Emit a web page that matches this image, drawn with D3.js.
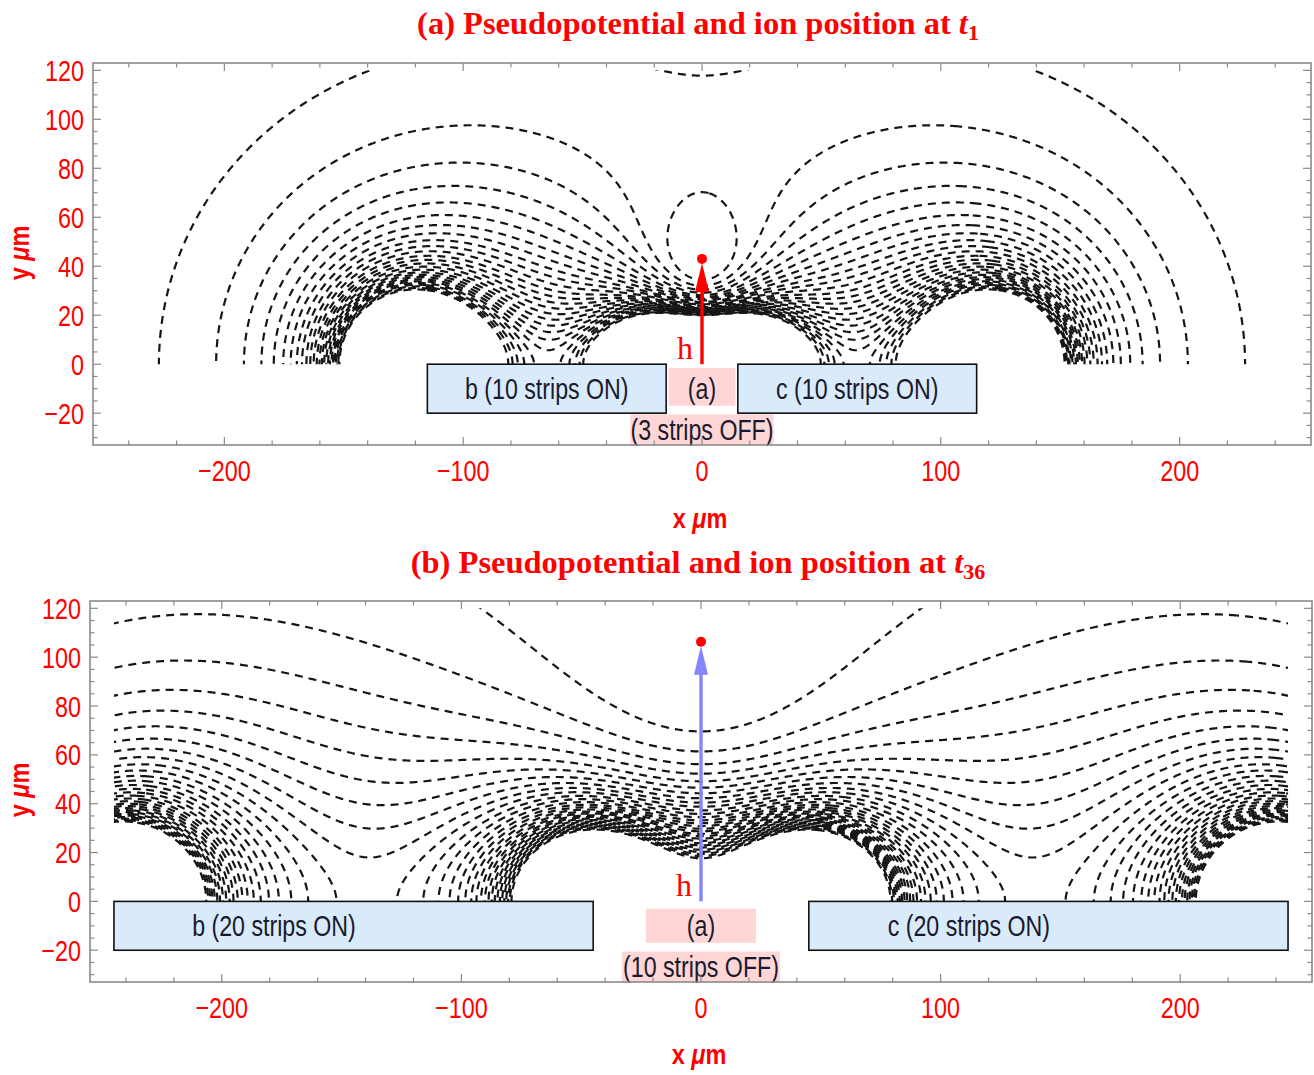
<!DOCTYPE html>
<html><head><meta charset="utf-8">
<script src="https://cdn.jsdelivr.net/npm/d3@7"></script>
<style>body{margin:0;background:#fff} svg{display:block}</style>
</head><body>
<svg id="c" width="1314" height="1075"></svg>
<script>
// ---------------- data ----------------
const titleTexts = ["(a) Pseudopotential and ion position at ", "(b) Pseudopotential and ion position at "];
const titleSubs = ["1", "36"];
// electrode boxes (µm) as labelled in the figure
const rfBoxesA = [[-115, -15], [15, 115]];
const rfBoxesB = [[-245, -45], [45, 245]];
const rfLabelsA = ["b (10 strips ON)", "c (10 strips ON)"];
const rfLabelsB = ["b (20 strips ON)", "c (20 strips ON)"];
// RF electrode edges (µm) estimated from the contour pattern (used for the pseudopotential field)
const rfEdgesA = [[-125, -15], [15, 125]];
const rfEdgesB = [[-245, -45], [45, 245]];
// grounded (OFF) region boxes
const offBoxA = [-14, 14];
const offBoxB = [-23, 23];
const offLabelBoxA = [-30, 30];
const offLabelBoxB = [-33, 33];
const offLabelA = "(3 strips OFF)";
const offLabelB = "(10 strips OFF)";
// ion heights (µm)
const ionHeights = [43, 106.3];
// contour levels of |E|^2 (unit RF amplitude, µm): step and count per panel
const contourLevelSteps = [4.08e-6, 3.12e-6];
const contourLevelCounts = [26, 30];
// ticks
const xTickValues = [-200, -100, 0, 100, 200];
const yTickValues = [-20, 0, 20, 40, 60, 80, 100, 120];

// ---------------- layout ----------------
const svg = d3.select("#c");
const RED = "#ff0000";
const panels = [
  {title: titleTexts[0], sub: titleSubs[0], titleY: 34, frame: {l: 93, r: 1311, t: 63, b: 445},
   box: rfBoxesA, rf: rfEdgesA, rfLabels: rfLabelsA, off: offBoxA, offTop: -1.5, offLab: offLabelBoxA, offText: offLabelA,
   ion: ionHeights[0], arrow: "#ff0000", xlabY: 528, ylabY: 253,
   step: contourLevelSteps[0], count: contourLevelCounts[0]},
  {title: titleTexts[1], sub: titleSubs[1], titleY: 573, frame: {l: 90, r: 1312, t: 601, b: 982},
   box: rfBoxesB, rf: rfEdgesB, rfLabels: rfLabelsB, off: offBoxB, offTop: -3, offLab: offLabelBoxB, offText: offLabelB,
   ion: ionHeights[1], arrow: "#8585ff", xlabY: 1064, ylabY: 790,
   step: contourLevelSteps[1], count: contourLevelCounts[1]}
];

function e2(strips, x, y) {
  let ex = 0, ey = 0; const y2 = y * y;
  for (const [x1, x2] of strips) {
    const a = x1 - x, b = x2 - x;
    const da = y2 + a * a, db = y2 + b * b;
    ex += y / da - y / db;
    ey += a / da - b / db;
  }
  return (ex * ex + ey * ey) / (Math.PI * Math.PI);
}

const sans = "'Liberation Sans',Arial,sans-serif";
const serif = "'Liberation Serif','Times New Roman',serif";

// narrow text helper (horizontal squeeze like the original figure)
function ntext(g, x, y, str, size, sx, anchor, fill, weight) {
  return g.append("text").attr("transform", `translate(${x},${y}) scale(${sx},1)`)
    .attr("text-anchor", anchor).attr("font-family", sans).attr("font-size", size)
    .attr("font-weight", weight || "normal").attr("fill", fill).text(str);
}

panels.forEach((p, pi) => {
  const f = p.frame;
  const xs = d3.scaleLinear().domain([-255, 255]).range([f.l, f.r]);
  const ys = d3.scaleLinear().domain([-33, 123]).range([f.b, f.t]);
  const g = svg.append("g");

  // title
  const tt = g.append("text").attr("x", 698).attr("y", p.titleY).attr("text-anchor", "middle")
    .attr("font-family", serif).attr("font-weight", "bold").attr("font-size", 32.5).attr("fill", RED);
  tt.append("tspan").text(p.title);
  tt.append("tspan").attr("font-style", "italic").text("t");
  tt.append("tspan").attr("font-size", 22).attr("dy", 6).text(p.sub);

  // contours
  const levels = d3.range(1, p.count + 1).map(k => k * p.step);
  const step = 0.5, x0 = -250.25, y0 = -6.25;
  const n = Math.round((250.25 - x0) / step) + 1;
  const m = Math.round((126.25 - y0) / step) + 1;
  const vals = new Float64Array(n * m);
  for (let j = 0; j < m; j++) {
    const y = y0 + j * step;
    for (let i = 0; i < n; i++) {
      const v = e2(p.rf, x0 + i * step, y);
      vals[j * n + i] = isFinite(v) ? Math.min(v, 1) : 1;
    }
  }
  const cs = d3.contours().size([n, m]).thresholds(levels)(vals);
  const proj = d3.geoTransform({point(px, py) {
    this.stream.point(xs(x0 + (px - 0.5) * step), ys(y0 + (py - 0.5) * step));
  }});
  const path = d3.geoPath(proj);
  const clipId = "clip" + pi;
  g.append("clipPath").attr("id", clipId).append("rect")
    .attr("x", xs(-245)).attr("y", ys(120)).attr("width", xs(245) - xs(-245)).attr("height", ys(0) - ys(120));
  g.append("g").attr("clip-path", `url(#${clipId})`).selectAll("path").data(cs).join("path")
    .attr("d", path).attr("fill", "none").attr("stroke", "#161616").attr("stroke-width", 2.2)
    .attr("stroke-dasharray", "8,6");

  // boxes
  const ink = "#1a1a2e";
  p.box.forEach((s, k) => {
    g.append("rect").attr("x", xs(s[0])).attr("y", ys(0)).attr("width", xs(s[1]) - xs(s[0]))
      .attr("height", ys(-20) - ys(0)).attr("fill", "#d9ebfb").attr("stroke", "#111").attr("stroke-width", 1.6);
  });
  g.append("rect").attr("x", xs(p.off[0])).attr("y", ys(p.offTop)).attr("width", xs(p.off[1]) - xs(p.off[0]))
    .attr("height", ys(-17) - ys(p.offTop)).attr("fill", "#ffd6d6");
  g.append("rect").attr("x", xs(p.offLab[0])).attr("y", ys(-20.5)).attr("width", xs(p.offLab[1]) - xs(p.offLab[0]))
    .attr("height", ys(-33) - ys(-20.5)).attr("fill", "#ffd6d6");
  p.box.forEach((s, k) => {
    const cx = pi === 0 ? (xs(s[0]) + xs(s[1])) / 2 : xs(s[0]) + 160;
    ntext(g, cx, ys(-10) + 10, p.rfLabels[k], 29, 0.8, "middle", ink);
  });
  ntext(g, xs(0), ys(-10) + 10, "(a)", 29, 0.8, "middle", ink);
  ntext(g, xs(0), ys(-27) + 10, p.offText, 29, 0.8, "middle", ink);

  // arrow + ion
  const ix = xs(0), iy = ys(p.ion);
  g.append("line").attr("x1", ix).attr("x2", ix).attr("y1", ys(0)).attr("y2", iy + 25)
    .attr("stroke", p.arrow).attr("stroke-width", 3.4);
  g.append("path").attr("d", `M${ix},${iy + 4}L${ix - 7},${iy + 33}L${ix + 7},${iy + 33}Z`).attr("fill", p.arrow);
  g.append("circle").attr("cx", ix).attr("cy", iy).attr("r", 5).attr("fill", RED);
  g.append("text").attr("x", ix - 17).attr("y", ys(0) - 5).attr("text-anchor", "middle")
    .attr("font-family", serif).attr("font-size", 32).attr("fill", RED).text("h");

  // frame
  g.append("rect").attr("x", f.l).attr("y", f.t).attr("width", f.r - f.l).attr("height", f.b - f.t)
    .attr("fill", "none").attr("stroke", "#8a8a8a").attr("stroke-width", 1.6);
  const tk = g.append("g").attr("stroke", "#8a8a8a").attr("stroke-width", 1.2);
  d3.range(-240, 241, 20).forEach(v => {
    const L = v % 100 === 0 ? 8 : 4.5;
    tk.append("line").attr("x1", xs(v)).attr("x2", xs(v)).attr("y1", f.b).attr("y2", f.b - L);
    tk.append("line").attr("x1", xs(v)).attr("x2", xs(v)).attr("y1", f.t).attr("y2", f.t + L);
  });
  d3.range(-30, 121, 5).forEach(v => {
    const L = v % 20 === 0 ? 8 : 4.5;
    tk.append("line").attr("y1", ys(v)).attr("y2", ys(v)).attr("x1", f.l).attr("x2", f.l + L);
    tk.append("line").attr("y1", ys(v)).attr("y2", ys(v)).attr("x1", f.r).attr("x2", f.r - L);
  });
  xTickValues.forEach(v => {
    ntext(g, xs(v), f.b + 36, v < 0 ? "\u2212" + (-v) : String(v), 30, 0.78, "middle", RED);
  });
  yTickValues.forEach(v => {
    ntext(g, f.l - 9, ys(v) + 10.5, v < 0 ? "\u2212" + (-v) : String(v), 30, 0.78, "end", RED);
  });
  // axis labels
  const xl = g.append("text").attr("transform", `translate(${xs(0) - 2},${p.xlabY}) scale(0.87,1)`).attr("text-anchor", "middle")
    .attr("font-family", sans).attr("font-weight", "bold").attr("font-size", 27).attr("fill", RED);
  xl.append("tspan").text("x ");
  xl.append("tspan").attr("font-style", "italic").text("\u03bc");
  xl.append("tspan").text("m");
  const yl = g.append("text").attr("transform", `translate(29,${p.ylabY}) rotate(-90) scale(0.87,1)`).attr("text-anchor", "middle")
    .attr("font-family", sans).attr("font-weight", "bold").attr("font-size", 27).attr("fill", RED);
  yl.append("tspan").text("y ");
  yl.append("tspan").attr("font-style", "italic").text("\u03bc");
  yl.append("tspan").text("m");
});
</script>
</body></html>
